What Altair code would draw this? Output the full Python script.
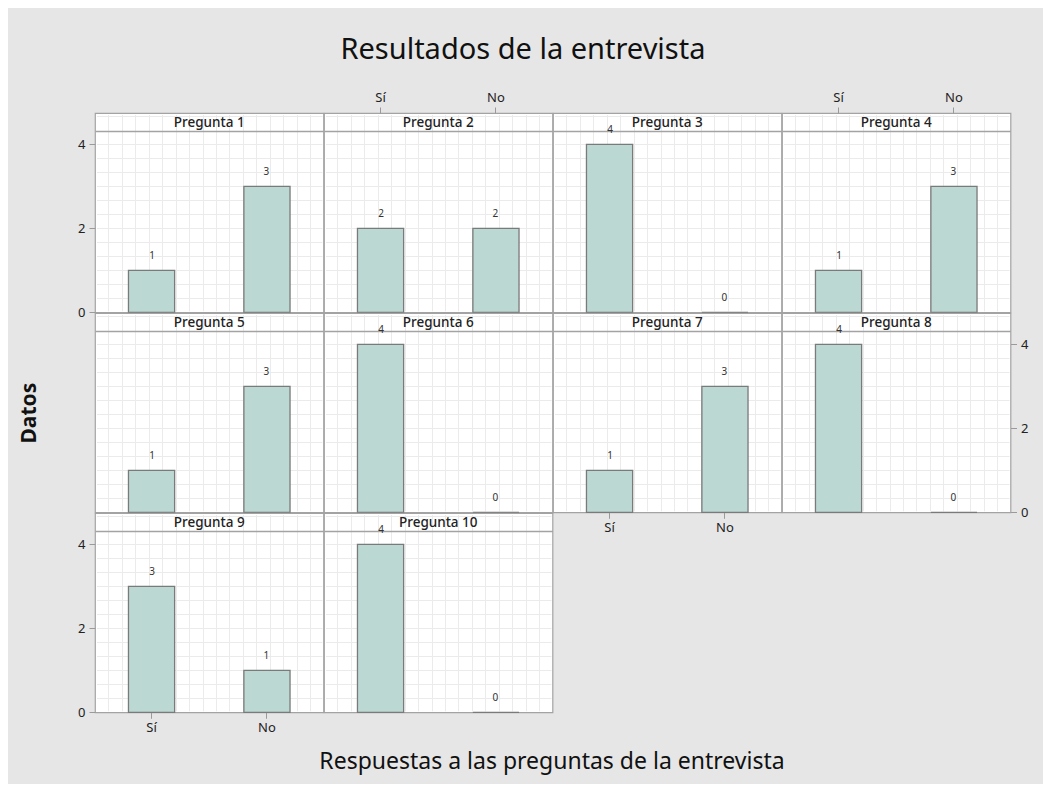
import altair as alt
import pandas as pd

preguntas = [f"Pregunta {i}" for i in range(1, 11)]
respuestas = ["Sí", "No"]
valores_si = [1, 2, 4, 1, 1, 4, 1, 4, 3, 4]
valores_no = [3, 2, 0, 3, 3, 0, 3, 0, 1, 0]
y_ticks = [0, 2, 4]

W = 228.5
H = 199.3
YMAX = 4.745
HEADER = 4.31
FONT = "Noto Sans"
GRID_Y = [round(k / 3, 4) for k in range(1, 13)] + [HEADER, round(14 / 3, 4)]
GRID_X = list(range(1, 17))
GAP = 1.5

X_ORIENT = {2: "top", 4: "top", 7: "bottom", 9: "bottom"}
Y_ORIENT = {1: "left", 9: "left", 8: "right"}
HEADER_TEST = "datum.value > 4.3 && datum.value < 4.32"


def panel(i):
    n = i + 1
    df = pd.DataFrame({"respuesta": respuestas, "valor": [valores_si[i], valores_no[i]]})
    xo = X_ORIENT.get(n)
    yo = Y_ORIENT.get(n)

    yscale = alt.Scale(domain=[0, YMAX], nice=False, zero=True)
    xscale = alt.Scale(domain=respuestas, paddingInner=0.6, paddingOuter=0.29)

    grid_x_orient = "top" if (xo == "bottom" or n == 10) else "bottom"
    grid_y_orient = "left" if (yo == "right") else "right"
    grid = alt.Chart(df).mark_point(opacity=0).encode(
        x=alt.X("valor:Q", scale=alt.Scale(domain=[0, 17], nice=False),
                axis=alt.Axis(orient=grid_x_orient, labels=False, ticks=False, domain=False,
                              title=None, grid=True, values=GRID_X,
                              gridColor="#ebebeb", gridWidth=1,
                              gridDash=[0, GAP, H - 2 * GAP, GAP])),
        y=alt.Y("valor:Q", scale=yscale,
                axis=alt.Axis(orient=grid_y_orient, labels=False, ticks=False, domain=False,
                              title=None, grid=True, values=GRID_Y,
                              gridColor={"condition": {"test": HEADER_TEST, "value": "#a3a3a3"},
                                         "value": "#ebebeb"},
                              gridWidth={"condition": {"test": HEADER_TEST, "value": 1.5},
                                         "value": 1},
                              gridDash={"condition": {"test": HEADER_TEST, "value": [W + 10, 0]},
                                        "value": [0, GAP, W - 2 * GAP, GAP]})),
    )

    if xo:
        xaxis = alt.Axis(orient=xo, title=None, labelAngle=0, domain=False, grid=False,
                         ticks=True, tickSize=6, tickColor="#9a9a9a", labelPadding=3,
                         labelFontSize=13, labelColor="#222", labelFont=FONT)
    elif n == 10:
        xaxis = alt.Axis(orient="bottom", labels=False, ticks=False, domain=False, grid=False,
                         title="Respuestas a las preguntas de la entrevista",
                         titleX=W - 1, titleY=49, titleAlign="center", titleBaseline="middle",
                         titleFontSize=23, titleFontWeight="normal", titleColor="#111",
                         titleFont=FONT)
    else:
        xaxis = None

    if yo:
        yaxis = alt.Axis(orient=yo, title=None, values=y_ticks, domain=False, grid=False,
                         tickSize=6, tickColor="#9a9a9a", labelPadding=4,
                         labelFontSize=13, labelColor="#222", labelFont=FONT)
    elif n == 5:
        yaxis = alt.Axis(orient="left", labels=False, ticks=False, domain=False, grid=False,
                         title="Datos", titleX=-66, titleY=H / 2, titleAngle=-90,
                         titleAlign="center", titleBaseline="middle",
                         titleFontSize=21, titleFontWeight="bold", titleColor="#111",
                         titleFont=FONT)
    else:
        yaxis = None

    bars = alt.Chart(df).mark_bar(color="#bcd8d3", stroke="#7a7a7a", strokeWidth=1.3).encode(
        x=alt.X("respuesta:N", sort=respuestas, scale=xscale, axis=xaxis),
        y=alt.Y("valor:Q", scale=yscale, axis=yaxis),
    )

    labels = alt.Chart(df).mark_text(dy=-9, baseline="bottom", fontSize=10, color="#333",
                                     font=FONT).encode(
        x=alt.X("respuesta:N", sort=respuestas, scale=xscale, axis=None),
        y=alt.Y("valor:Q", scale=yscale, axis=None),
        text=alt.Text("valor:Q"),
    )

    header = alt.Chart(pd.DataFrame({"p": [preguntas[i]]})).mark_text(
        fontSize=13.5, color="#222", font=FONT, fontWeight=500, baseline="middle"
    ).encode(
        x=alt.value(W / 2), y=alt.value(9.5), text="p:N"
    )

    return alt.layer(grid, bars, labels, header).resolve_scale(
        x="independent"
    ).resolve_axis(x="independent", y="independent").properties(width=W, height=H)


panels = [panel(i) for i in range(10)]

chart = alt.concat(*panels, columns=4, spacing=0, bounds="flush").properties(
    title=alt.TitleParams("Resultados de la entrevista", fontSize=29, font=FONT,
                          fontWeight="normal", color="#111", anchor="middle", offset=25),
    padding={"left": 9, "top": 28, "right": 14, "bottom": 10},
    background="#e6e6e6",
).configure_view(stroke="#a3a3a3", strokeWidth=1.2, fill="white")

chart.save("out.html", embed_options={"renderer": "svg", "actions": False})
